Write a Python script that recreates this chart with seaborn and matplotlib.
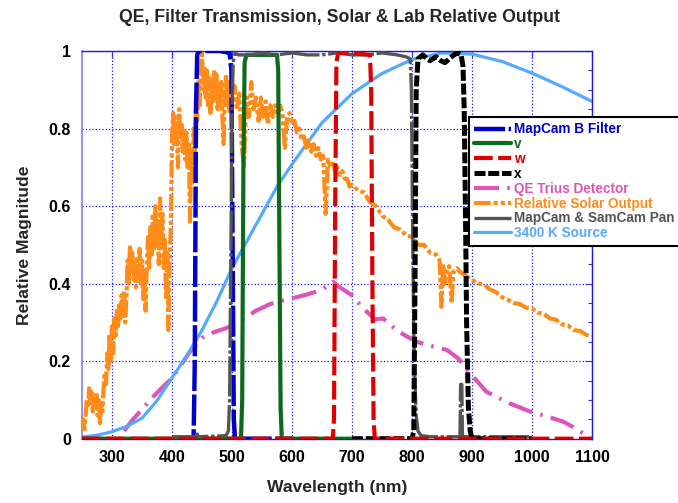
import numpy as np
import pandas as pd
import seaborn as sns
import matplotlib.pyplot as plt
from matplotlib.ticker import MultipleLocator, FixedLocator

# 1. Veriler

# MapCam B filtresi
b_nm = [400, 436, 438, 440, 442, 445, 460, 480, 496, 499, 501, 503, 505, 600]
b_val = [0, 0, 0.2, 0.85, 0.99, 1.0, 1.0, 1.0, 0.995, 0.95, 0.5, 0.05, 0, 0]

# v filtresi
v_nm = [250, 515, 517, 519, 521, 524, 550, 575, 577, 579, 581, 583, 700]
v_val = [0, 0, 0.1, 0.7, 0.97, 0.99, 0.99, 0.99, 0.95, 0.5, 0.08, 0, 0]

# w filtresi
w_nm = [250, 668, 670, 672, 674, 677, 700, 730, 732, 734, 736, 738, 1100]
w_val = [0, 0, 0.05, 0.6, 0.97, 0.995, 0.995, 0.99, 0.9, 0.4, 0.05, 0, 0]

# x filtresi
x_nm = [700, 800, 803, 805, 807, 810, 818, 825, 830, 840, 848, 855, 862, 870,
        876, 882, 885, 887, 889, 891, 894, 897, 900, 1000]
x_val = [0, 0, 0.02, 0.4, 0.9, 0.98, 0.99, 0.98, 0.975, 0.985, 0.975, 0.97,
         0.98, 0.99, 0.995, 0.99, 0.96, 0.85, 0.6, 0.3, 0.08, 0.02, 0, 0]

# QE Trius dedektoru
qe_nm = [320, 335, 347, 366, 385, 400, 415, 430, 450, 470, 490, 500, 520, 540,
         563, 580, 600, 625, 650, 668, 680, 699, 719, 738, 752, 774, 790, 808,
         830, 858, 877, 897, 924, 963, 997, 1030, 1052, 1075, 1097]
qe_val = [0.02, 0.05, 0.07, 0.104, 0.134, 0.156, 0.19, 0.225, 0.26, 0.275,
          0.285, 0.292, 0.31, 0.33, 0.347, 0.355, 0.362, 0.372, 0.384, 0.405,
          0.39, 0.371, 0.336, 0.308, 0.31, 0.28, 0.265, 0.25, 0.24, 0.229,
          0.207, 0.169, 0.121, 0.091, 0.07, 0.055, 0.044, 0.025, 0.0]

# Gunes ciktisi
solar_nm = (list(range(250, 400, 2)) + list(range(400, 500, 2)) + list(range(500, 700, 4)) +
            [700, 710, 720, 730, 740, 750, 760, 770, 780, 790, 800, 810, 820, 830, 840,
             846, 849, 852, 855, 858, 862, 866, 869, 875, 880, 890, 900, 910, 920, 930,
             940, 950, 960, 970, 980, 990, 1000, 1010, 1020, 1030, 1040, 1050, 1060,
             1070, 1080, 1090, 1100])
solar_val = [0.03, 0.05, 0.02, 0.06, 0.10, 0.08, 0.13, 0.09, 0.12, 0.07, 0.11, 0.08, 0.12,
             0.06, 0.10, 0.04, 0.09, 0.07, 0.13, 0.17, 0.14, 0.22, 0.18, 0.27, 0.20, 0.29,
             0.22, 0.31, 0.26, 0.33, 0.29, 0.35, 0.31, 0.37, 0.33, 0.38, 0.30, 0.36, 0.46,
             0.40, 0.50, 0.43, 0.48, 0.41, 0.45, 0.39, 0.47, 0.42, 0.49, 0.40, 0.46, 0.36,
             0.44, 0.33, 0.45, 0.52, 0.44, 0.55, 0.47, 0.58, 0.49, 0.60, 0.50, 0.56, 0.45,
             0.62, 0.50, 0.58, 0.44, 0.52, 0.36, 0.48, 0.28, 0.45, 0.55,
             0.78, 0.84, 0.76, 0.83, 0.78, 0.70, 0.85, 0.77, 0.81, 0.74, 0.80, 0.72, 0.79,
             0.70, 0.76, 0.56, 0.74, 0.66, 0.80, 0.72, 0.87, 0.82, 0.92, 0.86, 0.94, 1.0,
             0.90, 0.96, 0.88, 0.95, 0.86, 0.93, 0.84, 0.92, 0.87, 0.95, 0.88, 0.94, 0.85,
             0.91, 0.86, 0.92, 0.83, 0.76, 0.88, 0.94, 0.86, 0.92, 0.84, 0.90,
             0.86, 0.91, 0.85, 0.89, 0.76, 0.70, 0.88, 0.83, 0.92, 0.85, 0.88, 0.82, 0.88,
             0.83, 0.87, 0.81, 0.86, 0.83, 0.86, 0.84, 0.86, 0.84, 0.75, 0.83, 0.84, 0.81,
             0.82, 0.79, 0.80, 0.77, 0.78, 0.75, 0.77, 0.74, 0.76, 0.73, 0.75, 0.72, 0.73,
             0.58, 0.72, 0.70, 0.71, 0.69, 0.70, 0.68, 0.69, 0.67, 0.67, 0.65,
             0.655, 0.64, 0.635, 0.61, 0.6, 0.575, 0.565, 0.545, 0.54, 0.525, 0.52, 0.5,
             0.5, 0.48, 0.475, 0.46, 0.34, 0.45, 0.40, 0.44, 0.445, 0.35, 0.43, 0.44,
             0.43, 0.42, 0.41, 0.40, 0.398, 0.385, 0.378, 0.365, 0.358, 0.35, 0.347,
             0.338, 0.336, 0.325, 0.322, 0.31, 0.307, 0.295, 0.292, 0.28, 0.278, 0.268,
             0.265]

# MapCam & SamCam Pan
pan_nm = [400, 420, 440, 442, 444, 460, 480, 490, 494, 496, 498, 500, 502, 505,
          510, 530, 550, 575, 600, 625, 650, 675, 700, 725, 750, 775, 790, 797,
          799, 801, 803, 805, 807, 810, 815, 830, 860, 880, 881, 883, 884, 900, 1000]
pan_val = [0.005, 0.005, 0.005, 0.012, 0.005, 0.006, 0.007, 0.008, 0.02, 0.1,
           0.45, 0.85, 0.97, 0.995, 0.99, 0.99, 0.995, 0.99, 0.995, 0.99, 0.99,
           0.995, 0.99, 0.99, 0.995, 0.99, 0.985, 0.98, 0.9, 0.55, 0.28, 0.14,
           0.06, 0.02, 0.008, 0.005, 0.005, 0.005, 0.14, 0.14, 0.005, 0.005, 0.005]

# 3400 K kaynak
bb_nm = [250, 275, 300, 325, 350, 375, 400, 425, 450, 475, 500, 525, 550, 575,
         600, 650, 700, 750, 800, 850, 900, 950, 1000, 1050, 1100]
bb_val = [0.004, 0.009, 0.018, 0.032, 0.053, 0.098, 0.157, 0.215, 0.28, 0.355,
          0.44, 0.51, 0.58, 0.65, 0.708, 0.815, 0.89, 0.942, 0.978, 0.995,
          0.992, 0.973, 0.943, 0.908, 0.87]

# 2. Stil
sns.set_style('white')
plt.rcParams['font.family'] = ['Liberation Sans', 'DejaVu Sans']
plt.rcParams['font.weight'] = 'bold'

fig = plt.figure(figsize=(6.78, 5.03), dpi=100)
ax = fig.add_axes([82 / 678, 1 - 438.7 / 503, 510 / 678, 387.7 / 503])

series = [
    ('MapCam B Filter', b_nm, b_val, '#0000cc', 3.2, (0, (7, 0.8)), 3.0),
    ('v', v_nm, v_val, '#0b6a1c', 3.0, '-', 3.1),
    ('w', w_nm, w_val, '#dd0000', 3.0, (0, (4.5, 1.3)), 3.4),
    ('x', x_nm, x_val, '#000000', 3.6, (0, (2.2, 0.55)), 3.3),
    ('QE Trius Detector', qe_nm, qe_val, '#dd55bb', 3.0, (0, (6, 2, 0.6, 2)), 2.2),
    ('Relative Solar Output', solar_nm, solar_val, '#ff8c1a', 3.0, (0, (4, 0.7, 1, 0.7, 1, 0.7)), 2.6),
    ('MapCam & SamCam Pan', pan_nm, pan_val, '#555555', 2.4, (0, (12, 0.8, 1, 0.8)), 3.2),
    ('3400 K Source', bb_nm, bb_val, '#55aaff', 2.3, '-', 2.4),
]

for name, xs, ys, col, lw, ls, z in series:
    df = pd.DataFrame({'nm': xs, 'val': ys})
    sns.lineplot(data=df, x='nm', y='val', ax=ax, color=col, lw=lw, linestyle=ls,
                 label=name, sort=False, estimator=None, zorder=z)

# 3. Eksenler
ax.set_xlim(250, 1100)
ax.set_ylim(0, 1)
ax.xaxis.set_major_locator(FixedLocator([300, 400, 500, 600, 700, 800, 900, 1000, 1100]))
ax.yaxis.set_major_locator(FixedLocator([0, 0.2, 0.4, 0.6, 0.8, 1.0]))
ax.yaxis.set_minor_locator(MultipleLocator(0.05))
ax.set_yticklabels(['0', '0.2', '0.4', '0.6', '0.8', '1'])
ax.grid(True, which='major', color='#1a1ae6', linestyle=':', linewidth=0.9)
ax.tick_params(axis='both', which='both', direction='in', top=True, right=True,
               colors='#3333dd', labelcolor='black', labelsize=11.5)
ax.tick_params(which='major', length=5, width=0.8)
ax.tick_params(which='minor', length=3, width=0.8)
ax.tick_params(axis='y', pad=8)
ax.tick_params(axis='x', pad=8)
for lab in ax.get_xticklabels() + ax.get_yticklabels():
    lab.set_fontweight('bold')
for s in ['top', 'right', 'bottom']:
    ax.spines[s].set_color('#1a1ae0')
    ax.spines[s].set_linewidth(1.0)
ax.spines['left'].set_color('#8080e8')
ax.spines['left'].set_linewidth(1.2)

ax.set_xlabel('Wavelength (nm)', fontsize=12.6, fontweight='bold', labelpad=11)
ax.set_ylabel('Relative Magnitude', fontsize=12.6, fontweight='bold', labelpad=12)
fig.text(0.5, 1 - 17 / 503, 'QE, Filter Transmission, Solar & Lab Relative Output',
         ha='center', va='center', fontsize=12.7, fontweight='bold')

leg = ax.legend(loc='upper left', bbox_to_anchor=(469 / 678, 1 - 117 / 503),
                bbox_transform=fig.transFigure, frameon=True, fancybox=False,
                framealpha=1, edgecolor='black', prop={'weight': 'bold', 'size': 9.8},
                handlelength=2.7, handletextpad=0.2, labelspacing=0.06,
                borderpad=0.4, borderaxespad=0)
leg.get_frame().set_linewidth(1.5)
leg.set_zorder(10)
for t, l in zip(leg.get_texts(), leg.get_lines()):
    t.set_color(l.get_color())

fig.savefig('out.png', dpi=100)
